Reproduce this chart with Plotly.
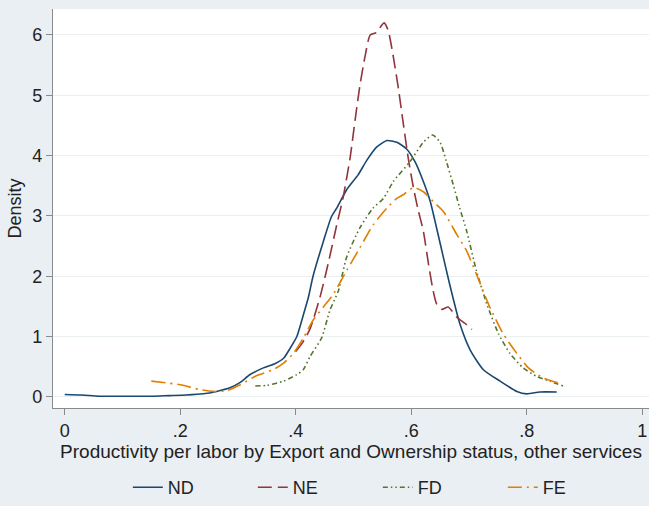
import plotly.graph_objects as go

# ---- data ----
nd_x = [0.0, 0.03, 0.06, 0.10, 0.15, 0.18, 0.21, 0.24, 0.263, 0.286, 0.304, 0.321, 0.344, 0.364, 0.379,
        0.39, 0.402, 0.413, 0.422, 0.43, 0.448, 0.462, 0.471, 0.488, 0.508, 0.523, 0.54, 0.558, 0.575,
        0.592, 0.607, 0.621, 0.633, 0.65, 0.667, 0.684, 0.702, 0.725, 0.754, 0.783, 0.80, 0.823, 0.852]
nd_y = [0.04, 0.03, 0.01, 0.01, 0.01, 0.02, 0.03, 0.05, 0.09, 0.15, 0.24, 0.37, 0.48, 0.55, 0.64,
        0.80, 1.0, 1.35, 1.65, 2.0, 2.58, 2.99, 3.13, 3.43, 3.68, 3.92, 4.14, 4.25, 4.22,
        4.11, 3.89, 3.57, 3.24, 2.55, 1.85, 1.22, 0.78, 0.45, 0.26, 0.09, 0.05, 0.08, 0.08]

ne_x = [0.40, 0.412, 0.425, 0.442, 0.456, 0.471, 0.482, 0.494, 0.503, 0.511, 0.52, 0.529, 0.54, 0.548,
        0.553, 0.56, 0.569, 0.578, 0.586, 0.595, 0.604, 0.612, 0.621, 0.63, 0.638, 0.644, 0.653, 0.664,
        0.679, 0.693, 0.705]
ne_y = [0.75, 0.9, 1.13, 1.65, 2.2, 2.85, 3.3, 3.95, 4.6, 5.15, 5.64, 6.0, 6.04, 6.15,
        6.2, 6.08, 5.64, 5.1, 4.55, 3.95, 3.46, 3.1, 2.75, 2.2, 1.76, 1.54, 1.45, 1.49,
        1.32, 1.22, 1.12]

fd_x = [0.33, 0.35, 0.379, 0.402, 0.413, 0.425, 0.445, 0.459, 0.474, 0.488, 0.511, 0.534, 0.552, 0.569,
        0.598, 0.621, 0.637, 0.65, 0.661, 0.673, 0.684, 0.696, 0.713, 0.731, 0.751, 0.771, 0.794, 0.817,
        0.84, 0.863]
fd_y = [0.18, 0.19, 0.26, 0.37, 0.45, 0.67, 0.98, 1.43, 1.76, 2.31, 2.8, 3.13, 3.29, 3.57,
        3.9, 4.22, 4.34, 4.22, 3.9, 3.51, 3.13, 2.75, 2.09, 1.54, 1.05, 0.72, 0.48, 0.34,
        0.26, 0.18]

fe_x = [0.15, 0.2, 0.234, 0.257, 0.28, 0.304, 0.332, 0.361, 0.379, 0.396, 0.413, 0.43, 0.448, 0.465,
        0.488, 0.511, 0.534, 0.558, 0.575, 0.586, 0.604, 0.621, 0.638, 0.656, 0.679, 0.696, 0.713,
        0.736, 0.759, 0.783, 0.803, 0.829, 0.855]
fe_y = [0.26, 0.2, 0.12, 0.09, 0.1, 0.2, 0.35, 0.45, 0.56, 0.72, 0.97, 1.27, 1.49, 1.7,
        2.09, 2.47, 2.85, 3.13, 3.29, 3.35, 3.47, 3.40, 3.24, 3.07, 2.69, 2.42, 2.03,
        1.49, 1.05, 0.72, 0.48, 0.31, 0.23]

x_tickvals = [0, 0.2, 0.4, 0.6, 0.8, 1]
x_ticktext = ["0", ".2", ".4", ".6", ".8", "1"]
y_tickvals = [0, 1, 2, 3, 4, 5, 6]

series = [
    ("ND", nd_x, nd_y, "#1a476f", "solid"),
    ("NE", ne_x, ne_y, "#90353b", "14px,6px"),
    ("FD", fd_x, fd_y, "#55752f", "5px,3px,1.5px,3px,1.5px,3px"),
    ("FE", fe_x, fe_y, "#e37e00", "14px,5px,2px,5px"),
]

FONT = "Liberation Sans, Arial, sans-serif"
BG = "#e9eff2"

fig = go.Figure()
for name, xs, ys, col, dash in series:
    fig.add_trace(go.Scatter(x=xs, y=ys, mode="lines", name=name,
                             line=dict(color=col, width=1.6, dash=dash, shape="spline", smoothing=0.6)))

fig.update_layout(
    width=649, height=506,
    margin=dict(l=53, r=0, t=9, b=94),
    paper_bgcolor=BG, plot_bgcolor="white",
    font=dict(family=FONT, size=18, color="#222222"),
    showlegend=True,
    legend=dict(orientation="h", x=0.545, xanchor="center", y=-0.2, yanchor="middle",
                font=dict(size=18, color="#222222"), bgcolor="rgba(0,0,0,0)",
                entrywidth=80, entrywidthmode="pixels", tracegroupgap=0),
    xaxis=dict(range=[-0.0203, 1.0118], tickvals=x_tickvals, ticktext=x_ticktext, automargin=False,
               showgrid=False, zeroline=False, showline=True, linecolor="#8a8a8a", linewidth=1.2,
               ticks="outside", ticklen=6, tickcolor="#8a8a8a",
               title=dict(text="Productivity per labor by Export and Ownership status, other services",
                          standoff=0, font=dict(size=19))),
    yaxis=dict(range=[-0.185, 6.43], tickvals=y_tickvals, automargin=False,
               showgrid=True, gridcolor="#eaeff2", gridwidth=1.2, zeroline=False,
               showline=True, linecolor="#8a8a8a", linewidth=1.2,
               ticks="outside", ticklen=6, tickcolor="#8a8a8a",
               title=dict(text="Density", standoff=5, font=dict(size=18))),
)

fig.write_html("out.html", config={"displayModeBar": False},
               post_script="document.body.style.margin='0px';document.body.style.background='%s';" % BG)
